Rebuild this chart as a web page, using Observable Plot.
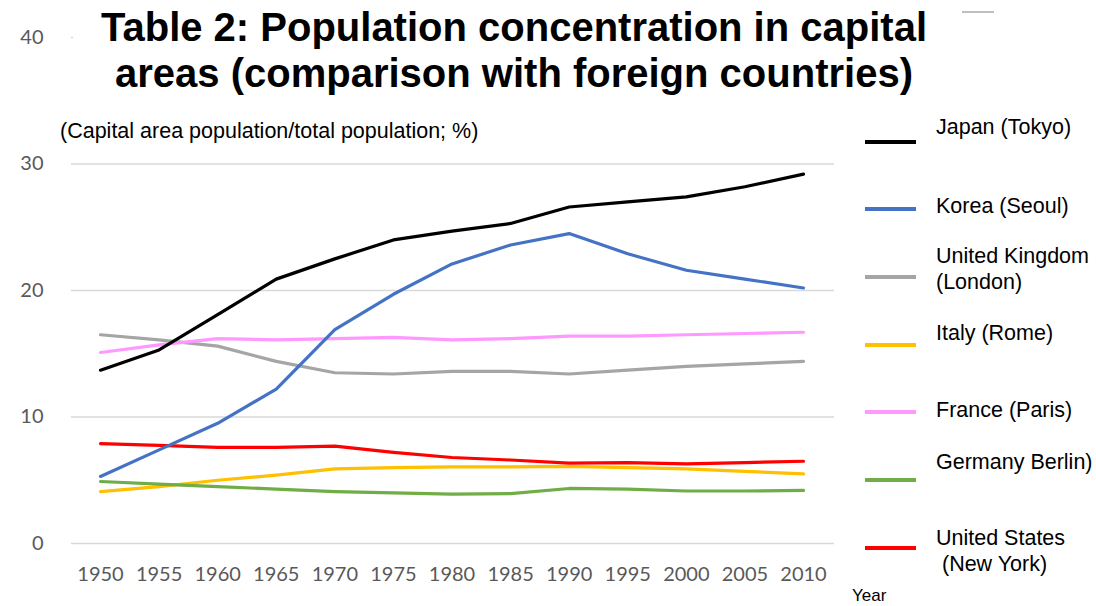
<!DOCTYPE html>
<html>
<head>
<meta charset="utf-8">
<script src="https://cdn.jsdelivr.net/npm/d3@7"></script>
<script src="https://cdn.jsdelivr.net/npm/@observablehq/plot@0.6"></script>
<style>
  html, body { margin: 0; padding: 0; background: #fff; }
  #wrap { position: relative; width: 1096px; height: 606px; overflow: hidden; font-family: "Liberation Sans", Arial, sans-serif; }
  #wrap svg { position: absolute; left: 0; top: 0; }
  .title { position: absolute; left: 73px; top: 0; width: 882px; height: 96px; background: #fff; text-align: center;
           font-weight: bold; font-size: 40px; line-height: 46px; padding-top: 4px; box-sizing: border-box; color: #000; }
  .subtitle { position: absolute; left: 60px; top: 118px; font-size: 21.5px; line-height: 26px; color: #000; white-space: nowrap; }
  .lg-line { position: absolute; left: 865px; width: 51px; height: 4px; }
  .lg-text { position: absolute; left: 936px; font-size: 21.5px; line-height: 26px; color: #000; white-space: pre; }
  .year { position: absolute; left: 852px; top: 587px; font-size: 17px; line-height: 18px; color: #000; }
  .topmark { position: absolute; left: 962px; top: 11px; width: 32px; height: 2px; background: #BFBFBF; }
</style>
</head>
<body>
<div id="wrap"></div>
<script>
// ---- data ----
const years = [1950, 1955, 1960, 1965, 1970, 1975, 1980, 1985, 1990, 1995, 2000, 2005, 2010];
const seriesNames = ["Japan (Tokyo)", "Korea (Seoul)", "United Kingdom\n(London)", "Italy (Rome)", "France (Paris)", "Germany Berlin)", "United States\n (New York)"];
const seriesColors = ["#000000", "#4472C4", "#A5A5A5", "#FFC000", "#FF99FF", "#70AD47", "#FF0000"];
const japan   = [13.7, 15.3, 18.1, 20.9, 22.5, 24.0, 24.7, 25.3, 26.6, 27.0, 27.4, 28.2, 29.2];
const korea   = [5.3, 7.4, 9.5, 12.2, 16.9, 19.7, 22.1, 23.6, 24.5, 22.9, 21.6, 20.9, 20.2];
const uk      = [16.5, 16.1, 15.6, 14.4, 13.5, 13.4, 13.6, 13.6, 13.4, 13.7, 14.0, 14.2, 14.4];
const italy   = [4.1, 4.5, 5.0, 5.4, 5.9, 6.0, 6.05, 6.05, 6.1, 6.0, 5.9, 5.7, 5.5];
const france  = [15.1, 15.7, 16.2, 16.1, 16.2, 16.3, 16.1, 16.2, 16.4, 16.4, 16.5, 16.6, 16.7];
const germany = [4.9, 4.7, 4.5, 4.3, 4.1, 4.0, 3.9, 3.95, 4.35, 4.3, 4.15, 4.15, 4.2];
const usa     = [7.9, 7.75, 7.6, 7.6, 7.7, 7.2, 6.8, 6.6, 6.35, 6.4, 6.3, 6.4, 6.5];
const yTicks = [0, 10, 20, 30, 40];
const titleLines = ["Table 2: Population concentration in capital", "areas (comparison with foreign countries)"];
const subtitleText = "(Capital area population/total population; %)";
const xAxisTitle = "Year";

// ---- build table ----
const seriesValues = [japan, korea, uk, italy, france, germany, usa];
const rows = [];
seriesValues.forEach((vals, i) => vals.forEach((v, j) => rows.push({series: seriesNames[i], year: years[j], value: v})));
// draw order: back to front
const drawOrder = [2, 4, 3, 5, 6, 1, 0];
const orderedRows = drawOrder.flatMap(i => rows.filter(r => r.series === seriesNames[i]));

const chart = Plot.plot({
  width: 1096,
  height: 606,
  marginLeft: 100,
  marginRight: 293,
  marginTop: 37,
  marginBottom: 63,
  style: {fontFamily: "Lato, 'Open Sans', sans-serif", fontSize: "20px", color: "#595959", background: "transparent"},
  x: {type: "linear", domain: [1950, 2010]},
  y: {domain: [0, 40]},
  color: {domain: seriesNames, range: seriesColors},
  marks: [
    Plot.ruleY(yTicks, {stroke: "#D9D9D9", strokeWidth: 1.5, insetLeft: -29, insetRight: -31}),
    Plot.axisY({ticks: yTicks, tickSize: 0, tickPadding: 57, label: null, fill: "#595959", fontSize: 20}),
    Plot.axisX({ticks: years, tickSize: 0, tickPadding: 23, tickFormat: d => String(d), label: null, fill: "#595959", fontSize: 20}),
    Plot.line(orderedRows, {x: "year", y: "value", z: "series", stroke: "series", strokeWidth: 3.2, strokeLinejoin: "round", strokeLinecap: "round"})
  ]
});

const wrap = document.getElementById("wrap");
wrap.appendChild(chart);

const t = document.createElement("div");
t.className = "title";
titleLines.forEach((line, i) => {
  if (i) t.appendChild(document.createElement("br"));
  t.appendChild(document.createTextNode(line));
});
wrap.appendChild(t);

const s = document.createElement("div");
s.className = "subtitle";
s.textContent = subtitleText;
wrap.appendChild(s);

const tm = document.createElement("div");
tm.className = "topmark";
wrap.appendChild(tm);

// legend layout (pixel positions of legend rows)
const legendLineY = [142, 209, 277, 345, 412, 480, 548];
const legendTextTop = [114, 193, 243, 320, 397, 449, 525];
seriesNames.forEach((name, i) => {
  const l = document.createElement("div");
  l.className = "lg-line";
  l.style.top = (legendLineY[i] - 2) + "px";
  l.style.background = seriesColors[i];
  wrap.appendChild(l);
  const tx = document.createElement("div");
  tx.className = "lg-text";
  tx.style.top = legendTextTop[i] + "px";
  tx.textContent = name;
  wrap.appendChild(tx);
});

const yr = document.createElement("div");
yr.className = "year";
yr.textContent = xAxisTitle;
wrap.appendChild(yr);
</script>
</body>
</html>
